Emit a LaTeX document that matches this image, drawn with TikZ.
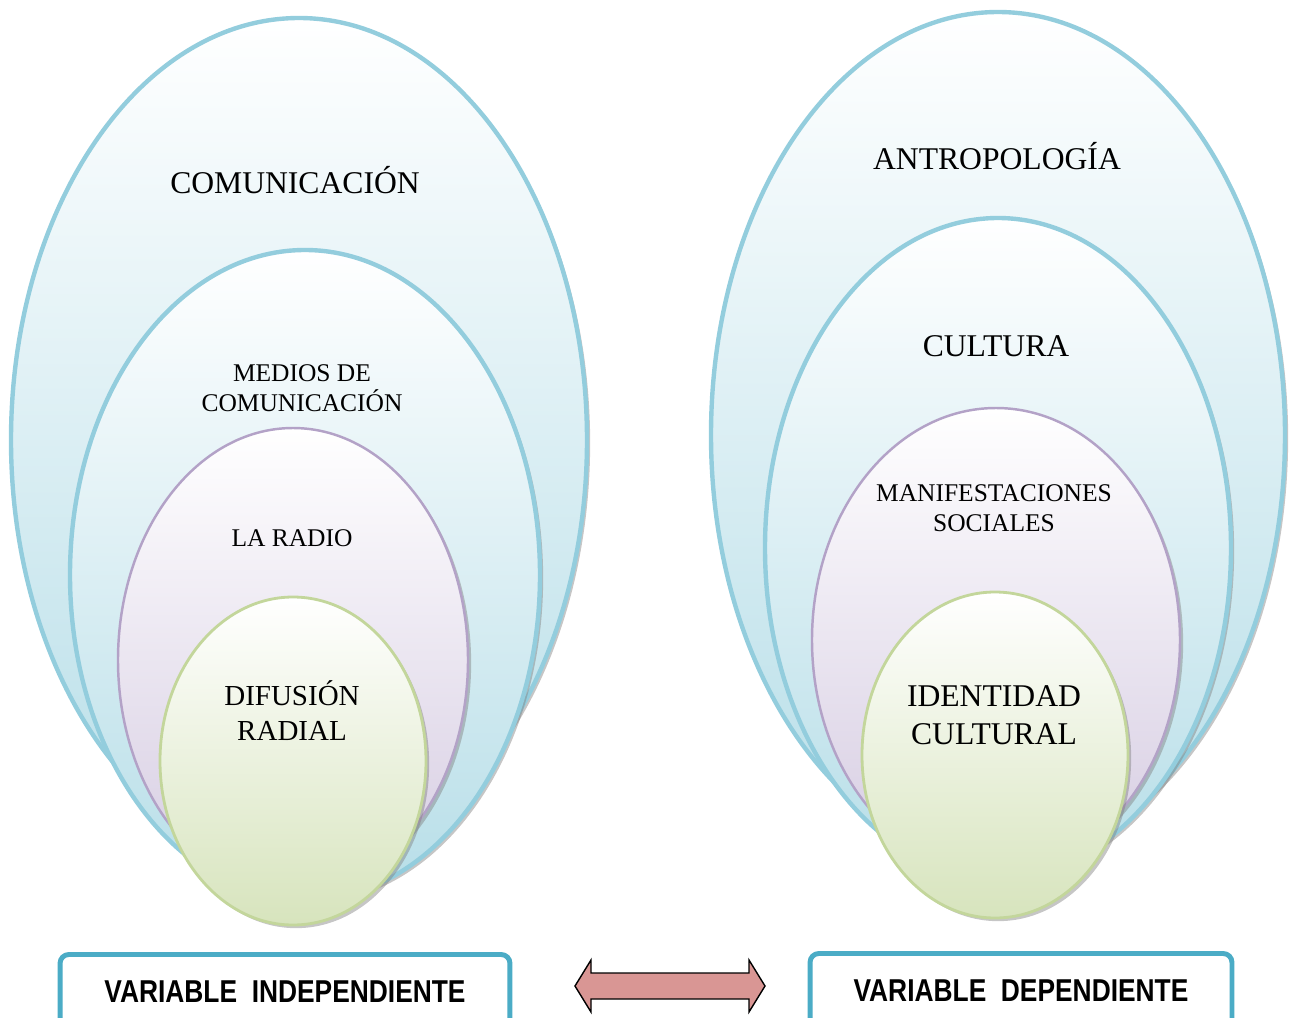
\documentclass[tikz,border=0pt]{standalone}
\usepackage{fontspec}
\usepackage{graphicx}
\setmainfont{Liberation Serif}
\setsansfont{Liberation Sans}
\usetikzlibrary{shadows}

\definecolor{ovalblue}{RGB}{147,205,221}
\definecolor{ovalbluefill}{RGB}{183,222,232}
\definecolor{ovalpurple}{RGB}{179,162,199}
\definecolor{ovalpurplefill}{RGB}{214,204,226}
\definecolor{ovalgreen}{RGB}{195,214,155}
\definecolor{ovalgreenfill}{RGB}{215,228,189}
\definecolor{boxblue}{RGB}{75,172,198}
\definecolor{arrowred}{RGB}{217,150,148}

\newcommand{\tallcaps}[1]{\scalebox{1}[1.2]{#1}}

\tikzset{
  oval/.style={drop shadow={shadow xshift=1.8pt, shadow yshift=-1.8pt, opacity=.45}},
  blueoval/.style={oval, line width=2.5pt, draw=ovalblue, top color=white, bottom color=ovalbluefill},
  purpleoval/.style={oval, line width=1.4pt, draw=ovalpurple, top color=white, bottom color=ovalpurplefill},
  greenoval/.style={oval, line width=1.6pt, draw=ovalgreen, top color=white, bottom color=ovalgreenfill},
  bigtext/.style={align=center, font=\fontsize{18}{21.5}\selectfont},
  smalltext/.style={align=center, font=\fontsize{14.5}{17}\selectfont},
  varbox/.style={draw=boxblue, line width=2.8pt, rounded corners=5pt, fill=white,
    minimum height=1.5cm, font=\sffamily\bfseries\fontsize{15}{18}\selectfont}
}

\begin{document}
\begin{tikzpicture}[x=0.02cm, y=-0.02cm]
    \useasboundingbox (0,0) rectangle (1296,1018);
    \clip (0,0) rectangle (1296,1018);
    % left group
    \draw[blueoval] (299,440) ellipse [x radius=288, y radius=422];
    \draw[blueoval] (305,575) ellipse [x radius=235, y radius=325];
    \draw[purpleoval] (293,660) ellipse [x radius=175, y radius=232];
    \draw[greenoval] (293,761) ellipse [x radius=133, y radius=164];
    \node[bigtext] (comunicacion) at (295,180) {COMUNICACIÓN};
    \node[smalltext] (medios) at (302,388) {MEDIOS DE\\COMUNICACIÓN};
    \node[smalltext] (radio) at (292,538) {LA RADIO};
    \node[bigtext, font=\fontsize{16.5}{20}\selectfont] (difusion) at (292,711) {DIFUSIÓN\\RADIAL};
    % right group
    \draw[blueoval] (998,435) ellipse [x radius=287, y radius=423];
    \draw[blueoval] (998,548) ellipse [x radius=233, y radius=330];
    \draw[purpleoval] (996,640) ellipse [x radius=184, y radius=232];
    \draw[greenoval] (995,755) ellipse [x radius=133, y radius=163];
    \node[bigtext] (antropologia) at (997,156) {ANTROPOLOGÍA};
    \node[bigtext] (cultura) at (996,346) {CULTURA};
    \node[smalltext] (manifestaciones) at (994,508) {MANIFESTACIONES\\SOCIALES};
    \node[bigtext] (identidad) at (994,715) {IDENTIDAD\\CULTURAL};
    % variables
    \node[varbox, minimum width=9cm] (vi) at (285,992) {\tallcaps{VARIABLE\ \ INDEPENDIENTE}};
    \node[varbox, minimum width=8.44cm] (vd) at (1021,991) {\tallcaps{VARIABLE\ \ DEPENDIENTE}};
    % double arrow between the variables
    \draw[line width=0.8pt, fill=arrowred, line join=miter]
      (575,986) -- (591,960) -- (591,973) -- (749,973) -- (749,960) -- (765,986)
      -- (749,1012) -- (749,999) -- (591,999) -- (591,1012) -- cycle;
\end{tikzpicture}
\end{document}
